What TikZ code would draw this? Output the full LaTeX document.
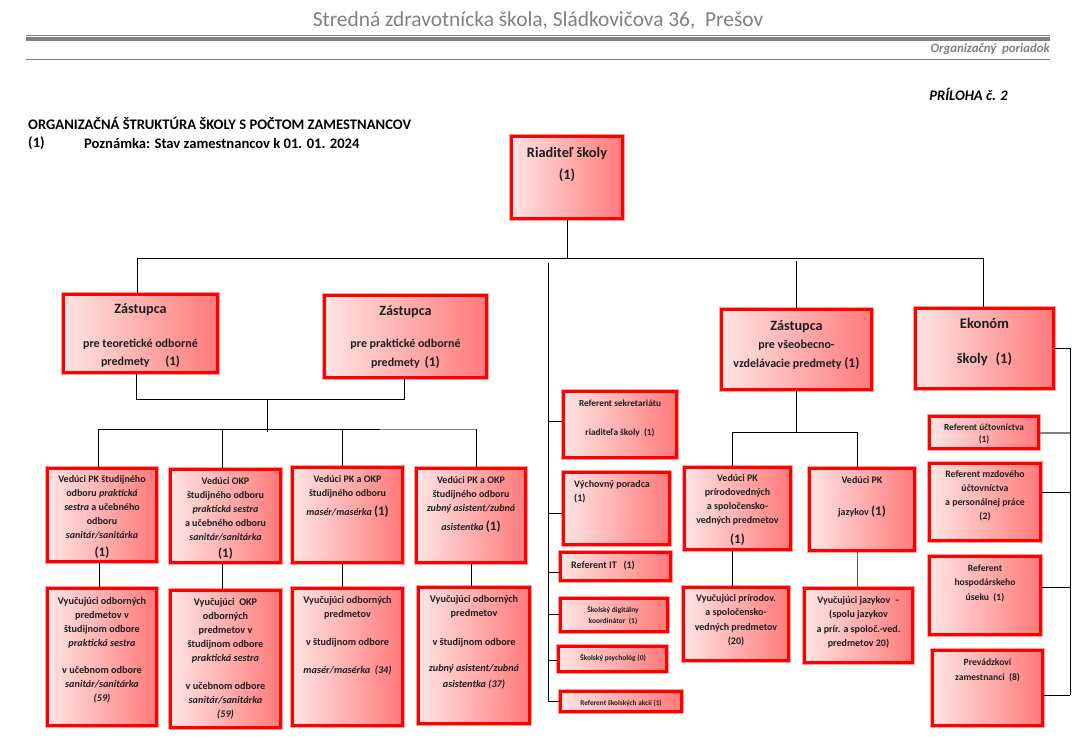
\documentclass[tikz,border=0pt]{standalone}
\usepackage{fontspec}
\setmainfont{Carlito}
\definecolor{boxL}{RGB}{255,228,228}
\definecolor{boxR}{RGB}{255,122,122}
\definecolor{hdr}{RGB}{128,128,128}
\definecolor{textc}{RGB}{30,30,30}
\definecolor{halo}{RGB}{255,160,160}
\tikzset{
  box/.style={draw=red, line width=2.6pt, left color=boxL, right color=boxR, inner sep=0pt,
              preaction={draw=halo, line width=4.4pt}},
  txt/.style={anchor=north, inner sep=0pt, align=center, text=textc},
  conn/.style={draw=black, line width=0.8pt},
  gconn/.style={draw=hdr, line width=1.8pt}
}
\newcommand\bx[5]{%
  \pgfmathsetmacro\bxw{#4-#2-3}\pgfmathsetmacro\bxh{#5-#3-3}%
  \node[box, minimum width=\bxw pt, minimum height=\bxh pt] (#1) at ({(#2+#4)/2},{(#3+#5)/2}) {};}
\newcommand\tx[5]{\node[txt, font=#4] (#1) at (#2,{#3-12}) {\rule{0pt}{12pt}#5};}
\newcommand\bigone{{\fontsize{13}{14}\selectfont(1)}}
\begin{document}
\begin{tikzpicture}[x=1pt,y=-1pt]
\useasboundingbox (0,0) rectangle (1081,745);
\fill[white] (0,0) rectangle (1081,745);
% ---------- header ----------
\node[font=\fontsize{21.4}{24}\selectfont, text=hdr, inner sep=0pt] (title) at (538,20) {Stredná zdravotnícka škola, Sládkovičova 36,\ \ Prešov};
\draw[hdr, line width=0.8pt] (26,35) -- (1050,35);
\fill[hdr] (26,37) rectangle (1050,41);
\node[anchor=east, font=\fontsize{12.8}{14}\selectfont\bfseries\itshape, text=hdr, inner sep=0pt] (op) at (1050,49) {Organizačný\ \ poriadok};
\draw[hdr, line width=1pt] (26,59) -- (1050,59);
\node[anchor=east, font=\fontsize{14.6}{16}\selectfont\bfseries\itshape, text=black, inner sep=0pt] (priloha) at (1008,94) {PRÍLOHA č. 2};
\node[anchor=west, font=\fontsize{14.6}{16}\selectfont\bfseries, text=black, inner sep=0pt] (heading) at (28,123) {ORGANIZAČNÁ ŠTRUKTÚRA ŠKOLY S POČTOM ZAMESTNANCOV};
\node[anchor=west, font=\fontsize{14.6}{16}\selectfont\bfseries, text=black, inner sep=0pt] (noteA) at (28,143) {(1)};
\node[anchor=west, font=\fontsize{14.6}{16}\selectfont\bfseries, text=black, inner sep=0pt] (noteB) at (84,143) {Poznámka: Stav zamestnancov k 01. 01. 2024};
% ---------- boxes ----------
\bx{dir}{510}{135}{624}{220}
\bx{z1}{62}{293}{219}{374}
\bx{z2}{323}{294}{488}{379}
\bx{z3}{720}{308}{873}{391}
\bx{ek}{914}{307}{1055}{390}
\bx{b1}{46}{467}{158}{563}
\bx{b2}{169}{468}{282}{564}
\bx{b3}{291}{466}{404}{564}
\bx{b4}{415}{467}{527}{564}
\bx{c1}{46}{587}{158}{727}
\bx{c2}{169}{589}{282}{729}
\bx{c3}{291}{587}{404}{727}
\bx{c4}{417}{586}{531}{725}
\bx{sek}{562}{390}{678}{459}
\bx{vp}{562}{471}{671}{546}
\bx{it}{559}{551}{672}{582}
\bx{dig}{559}{597}{669}{633}
\bx{psy}{557}{645}{668}{673}
\bx{akc}{559}{690}{683}{713}
\bx{d1}{683}{466}{792}{551}
\bx{d2}{808}{467}{916}{552}
\bx{e1}{682}{586}{790}{662}
\bx{e2}{803}{587}{914}{664}
\bx{uct}{928}{415}{1040}{450}
\bx{mzd}{928}{462}{1042}{542}
\bx{hos}{928}{555}{1042}{636}
\bx{pre}{931}{649}{1044}{727}
% ---------- texts ----------
\tx{dirt}{567}{157}{\fontsize{14.4}{22}\selectfont\bfseries}{Riaditeľ školy\\(1)}
\tx{z1t}{140.5}{313.5}{\fontsize{12}{18}\selectfont\bfseries}{{\fontsize{14.2}{18}\selectfont Zástupca}\\[15.5pt]pre teoretické odborné\\predmety\hspace{1.3em}{\fontsize{13}{18}\selectfont(1)}}
\tx{z2t}{405.5}{315.5}{\fontsize{12}{19}\selectfont\bfseries}{{\fontsize{14.2}{18}\selectfont Zástupca}\\[12.5pt]pre praktické odborné\\predmety\hspace{0.4em}{\fontsize{13.5}{18}\selectfont(1)}}
\tx{z3t}{796.5}{330}{\fontsize{12}{19}\selectfont\bfseries}{{\fontsize{14.2}{18}\selectfont Zástupca}\\[-1pt]pre všeobecno-\\vzdelávacie predmety {\fontsize{13.5}{18}\selectfont(1)}}
\tx{ekt}{984.5}{328}{\fontsize{14.6}{35}\selectfont\bfseries}{Ekonóm\\školy\hspace{8pt}(1)}
\tx{b1t}{102}{482}{\fontsize{10}{14}\selectfont\bfseries}{Vedúci PK študijného\\odboru \textit{praktická}\\\textit{sestra} a učebného\\odboru\\\textit{sanitár/sanitárka}\\[4pt]\bigone}
\tx{b2t}{225.5}{484}{\fontsize{10}{14}\selectfont\bfseries}{Vedúci OKP\\študijného odboru\\\textit{praktická sestra}\\a učebného odboru\\\textit{sanitár/sanitárka}\\[3pt]\bigone}
\tx{c1t}{102}{604}{\fontsize{10.2}{14}\selectfont\bfseries}{Vyučujúci odborných\\predmetov v\\študijnom odbore\\\textit{praktická sestra}\\[13pt]v učebnom odbore\\\textit{sanitár/sanitárka}\\\textit{(59)}}
\tx{c2t}{225.5}{605}{\fontsize{10.2}{14}\selectfont\bfseries}{Vyučujúci\ \ OKP\\odborných\\predmetov v\\študijnom odbore\\\textit{praktická sestra}\\[14pt]v učebnom odbore\\\textit{sanitár/sanitárka}\\\textit{(59)}}
\tx{b3t}{347.5}{482}{\fontsize{10}{14}\selectfont\bfseries}{Vedúci PK a OKP\\študijného odboru\\[5pt]\textit{masér/masérka} \bigone}
\tx{c3t}{347.5}{603}{\fontsize{10.2}{14}\selectfont\bfseries}{Vyučujúci odborných\\predmetov\\[14pt]v študijnom odbore\\[14pt]\textit{masér/masérka\ \ (34)}}
\tx{b4t}{471}{483}{\fontsize{10}{14}\selectfont\bfseries}{Vedúci PK a OKP\\študijného odboru\\\textit{zubný asistent/zubná}\\[5pt]\textit{asistentka} \bigone}
\tx{c4t}{474}{602}{\fontsize{10.2}{14}\selectfont\bfseries}{Vyučujúci odborných\\predmetov\\[15pt]v študijnom odbore\\[12pt]\textit{zubný asistent/zubná}\\[2pt]\textit{asistentka (37)}}
\tx{sekt}{620}{406}{\fontsize{9.3}{14}\selectfont\bfseries}{Referent sekretariátu\\[15pt]riaditeľa školy\ \ (1)}
\node[txt, anchor=north west, align=left, font=\fontsize{10}{14}\selectfont\bfseries] (vpt) at (574,{487-12}) {\rule{0pt}{12pt}Výchovný poradca\\(1)};
\node[txt, anchor=north west, align=left, font=\fontsize{10}{14}\selectfont\bfseries] (itt) at (571,{568-12}) {\rule{0pt}{12pt}Referent IT\ \ \ (1)};
\tx{digt}{613}{612.5}{\fontsize{7.5}{11}\selectfont\bfseries}{Školský digitálny\\koordinátor\ \ (1)}
\tx{psyt}{613}{660.5}{\fontsize{7.5}{11}\selectfont\bfseries}{Školský psychológ (0)}
\tx{akct}{621}{705.5}{\fontsize{7.3}{11}\selectfont\bfseries}{Referent školských akcií (1)}
\tx{d1t}{737.5}{481}{\fontsize{10}{14}\selectfont\bfseries}{Vedúci PK\\prírodovedných\\a spoločensko-\\vedných predmetov\\[6pt]\bigone}
\tx{d2t}{862}{483}{\fontsize{10}{14}\selectfont\bfseries}{Vedúci PK\\[18pt]jazykov \bigone}
\tx{e1t}{736}{601}{\fontsize{10}{14.5}\selectfont\bfseries}{Vyučujúci prírodov.\\a spoločensko-\\vedných predmetov\\(20)}
\tx{e2t}{858.5}{603}{\fontsize{10}{14.5}\selectfont\bfseries}{Vyučujúci jazykov\ \ --\\(spolu jazykov\\a prír. a spoloč.-ved.\\predmetov 20)}
\tx{uctt}{984}{430}{\fontsize{9.3}{12}\selectfont\bfseries}{Referent účtovníctva\\(1)}
\tx{mzdt}{985}{477}{\fontsize{9.8}{14}\selectfont\bfseries}{Referent mzdového\\účtovníctva\\a personálnej práce\\(2)}
\tx{host}{985}{571}{\fontsize{9.6}{14.5}\selectfont\bfseries}{Referent\\hospodárskeho\\úseku\ \ (1)}
\tx{pret}{987.5}{665}{\fontsize{9.6}{15}\selectfont\bfseries}{Prevádzkoví\\zamestnanci\ \ (8)}
% ---------- connectors ----------
\coordinate (busL) at (137,258);
\coordinate (busR) at (983,258);
\draw[conn] (dir.south) -- (dir.south |- busL);
\draw[conn] (busL) -- (busR);
\draw[conn] (busL) -- (busL |- z1.north);
\draw[conn] (busR) -- (busR |- ek.north);
\coordinate (z3top) at (796,261);
\draw[conn] (z3top) -- (z3top |- z3.north);
% deputies for vocational subjects
\coordinate (j1) at (136,399);
\coordinate (j2) at (404,399);
\coordinate (j3) at (267,399);
\coordinate (bus2) at (267,429);
\draw[conn] (z1.south -| j1) -- (j1) -- (j2) -- (z2.south -| j2);
\draw[conn] (j3) -- (267,432);
\draw[conn] (98,429) -- (380,429);
\draw[draw=hdr, line width=1pt] (380,429) -- (476,429);
\draw[conn] (98,429) -- (b1.north -| 98,0);
\draw[conn] (222,429) -- (b2.north -| 222,0);
\draw[conn] (342,429) -- (b3.north -| 342,0);
\draw[conn] (476,429) -- (b4.north -| 476,0);
\draw[conn] (b1.south -| 99,0) -- (c1.north -| 99,0);
\draw[conn] (b2.south -| 222,0) -- (c2.north -| 222,0);
\draw[conn] (b3.south -| 342,0) -- (c3.north -| 342,0);
\draw[conn] (b4.south -| 471,0) -- (c4.north -| 471,0);
% staff column
\coordinate (midT) at (548,263);
\coordinate (midB) at (548,702);
\draw[conn] (midT) -- (midB);
\draw[conn] (midT |- 0,421) -- (sek.west |- 0,421);
\draw[conn] (midT |- 0,513) -- (vp.west |- 0,513);
\draw[conn] (midT |- 0,572) -- (it.west |- 0,572);
\draw[conn] (midT |- 0,614) -- (dig.west |- 0,614);
\draw[conn] (midT |- 0,660) -- (psy.west |- 0,660);
\draw[conn] (midT |- 0,701) -- (akc.west |- 0,701);
% general subjects
\coordinate (g0) at (796,432);
\draw[conn] (z3.south -| g0) -- (g0);
\draw[conn] (732,432) -- (857,432);
\draw[conn] (732,432) -- (d1.north -| 732,0);
\draw[conn] (857,432) -- (d2.north -| 857,0);
\draw[conn] (d1.south -| 732,0) -- (e1.north -| 732,0);
\draw[draw=hdr!70!black, line width=1pt] (d2.south -| 857,0) -- (e2.north -| 857,0);
% economist
\coordinate (ekT) at (1070,348);
\coordinate (ekB) at (1070,695);
\draw[conn] (ek.east |- ekT) -- (ekT) -- (ekB);
\draw[gconn] (ekT |- 0,433) -- (uct.east |- 0,433);
\draw[conn] (ekT |- 0,492) -- (mzd.east |- 0,492);
\draw[conn] (ekT |- 0,587) -- (hos.east |- 0,587);
\draw[conn] (ekB) -- (pre.east |- ekB);
\end{tikzpicture}
\end{document}
